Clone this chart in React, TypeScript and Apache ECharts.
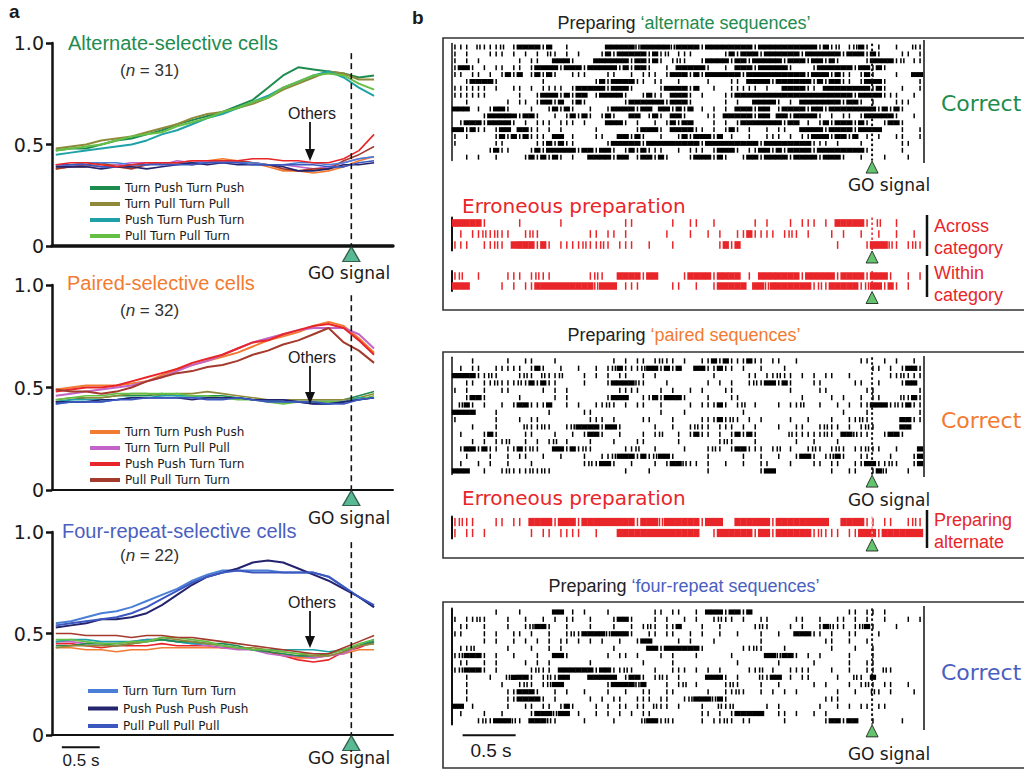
import React, { useEffect, useRef } from "react";
import * as echarts from "echarts";

// ---------- Panel a: time base (s relative to GO) ----------
const TIME_A = [-3.9, -3.7, -3.5, -3.3, -3.1, -2.9, -2.7, -2.5, -2.3, -2.1, -1.9, -1.7, -1.5, -1.3, -1.1, -0.9, -0.7, -0.5, -0.3, -0.1, 0.1, 0.3];

// Alternate-selective cells
const alt_TPTP = [0.47, 0.48, 0.48, 0.5, 0.52, 0.53, 0.55, 0.57, 0.6, 0.62, 0.64, 0.66, 0.69, 0.72, 0.78, 0.84, 0.88, 0.87, 0.86, 0.85, 0.83, 0.84];
const alt_TPuTPu = [0.48, 0.49, 0.5, 0.52, 0.53, 0.54, 0.56, 0.58, 0.6, 0.63, 0.65, 0.66, 0.68, 0.7, 0.73, 0.77, 0.8, 0.83, 0.86, 0.85, 0.82, 0.82];
const alt_PTPT = [0.45, 0.46, 0.47, 0.48, 0.49, 0.5, 0.52, 0.55, 0.57, 0.6, 0.63, 0.65, 0.68, 0.71, 0.74, 0.78, 0.81, 0.84, 0.86, 0.83, 0.78, 0.74];
const alt_PuTPuT = [0.47, 0.48, 0.49, 0.5, 0.52, 0.54, 0.55, 0.56, 0.59, 0.61, 0.63, 0.66, 0.68, 0.71, 0.73, 0.78, 0.81, 0.84, 0.85, 0.84, 0.8, 0.77];
const alt_oth_PPTT = [0.4, 0.41, 0.41, 0.4, 0.39, 0.4, 0.41, 0.41, 0.41, 0.42, 0.42, 0.42, 0.42, 0.43, 0.43, 0.42, 0.42, 0.41, 0.41, 0.43, 0.47, 0.55];
const alt_oth_PuPuTT = [0.38, 0.39, 0.4, 0.41, 0.39, 0.38, 0.4, 0.41, 0.41, 0.4, 0.41, 0.42, 0.42, 0.41, 0.4, 0.38, 0.37, 0.38, 0.38, 0.42, 0.45, 0.49];
const alt_oth_TTPP = [0.38, 0.39, 0.39, 0.4, 0.4, 0.39, 0.4, 0.41, 0.41, 0.42, 0.42, 0.43, 0.42, 0.41, 0.39, 0.37, 0.37, 0.36, 0.37, 0.39, 0.42, 0.44];
const alt_oth_TTPuPu = [0.39, 0.4, 0.4, 0.39, 0.4, 0.41, 0.41, 0.4, 0.42, 0.41, 0.42, 0.41, 0.42, 0.41, 0.4, 0.4, 0.39, 0.38, 0.39, 0.41, 0.43, 0.44];
const alt_oth_TTTT = [0.4, 0.4, 0.41, 0.41, 0.41, 0.4, 0.4, 0.41, 0.41, 0.41, 0.41, 0.42, 0.41, 0.41, 0.4, 0.4, 0.41, 0.41, 0.4, 0.41, 0.43, 0.44];
const alt_oth_PPPP = [0.39, 0.39, 0.39, 0.38, 0.39, 0.39, 0.38, 0.39, 0.4, 0.41, 0.4, 0.41, 0.4, 0.4, 0.4, 0.39, 0.37, 0.37, 0.38, 0.4, 0.4, 0.41];
const alt_oth_PuPuPuPu = [0.4, 0.4, 0.4, 0.39, 0.39, 0.4, 0.4, 0.4, 0.4, 0.4, 0.41, 0.41, 0.41, 0.4, 0.4, 0.4, 0.4, 0.4, 0.39, 0.39, 0.41, 0.42];

// Paired-selective cells
const par_TTPP = [0.49, 0.5, 0.51, 0.51, 0.51, 0.52, 0.53, 0.56, 0.59, 0.61, 0.63, 0.65, 0.67, 0.7, 0.73, 0.75, 0.77, 0.8, 0.82, 0.8, 0.74, 0.67];
const par_TTPuPu = [0.46, 0.47, 0.48, 0.49, 0.5, 0.51, 0.53, 0.55, 0.58, 0.61, 0.63, 0.66, 0.69, 0.72, 0.74, 0.76, 0.78, 0.79, 0.79, 0.79, 0.76, 0.69];
const par_PPTT = [0.48, 0.49, 0.5, 0.5, 0.51, 0.53, 0.55, 0.57, 0.59, 0.62, 0.64, 0.66, 0.69, 0.72, 0.73, 0.76, 0.78, 0.8, 0.81, 0.79, 0.73, 0.66];
const par_PuPuTT = [0.49, 0.48, 0.48, 0.47, 0.48, 0.5, 0.53, 0.55, 0.57, 0.58, 0.6, 0.61, 0.63, 0.66, 0.68, 0.71, 0.73, 0.76, 0.79, 0.72, 0.68, 0.62];
const par_oth_TPTP = [0.43, 0.44, 0.45, 0.45, 0.46, 0.46, 0.46, 0.47, 0.46, 0.46, 0.46, 0.46, 0.45, 0.44, 0.44, 0.44, 0.44, 0.44, 0.44, 0.44, 0.46, 0.48];
const par_oth_TPuTPu = [0.44, 0.45, 0.45, 0.45, 0.46, 0.47, 0.47, 0.46, 0.47, 0.47, 0.48, 0.47, 0.46, 0.45, 0.44, 0.44, 0.44, 0.44, 0.44, 0.44, 0.45, 0.47];
const par_oth_PTPT = [0.43, 0.44, 0.44, 0.44, 0.44, 0.45, 0.45, 0.46, 0.46, 0.46, 0.45, 0.45, 0.45, 0.44, 0.44, 0.43, 0.43, 0.43, 0.43, 0.43, 0.45, 0.45];
const par_oth_PuTPuT = [0.44, 0.45, 0.46, 0.46, 0.47, 0.47, 0.47, 0.47, 0.47, 0.46, 0.46, 0.45, 0.44, 0.44, 0.43, 0.42, 0.43, 0.43, 0.43, 0.43, 0.44, 0.46];
const par_oth_TTTT = [0.42, 0.43, 0.43, 0.43, 0.44, 0.45, 0.45, 0.45, 0.45, 0.45, 0.45, 0.45, 0.45, 0.44, 0.44, 0.44, 0.43, 0.42, 0.42, 0.43, 0.44, 0.45];
const par_oth_PPPP = [0.43, 0.43, 0.43, 0.44, 0.44, 0.45, 0.45, 0.45, 0.45, 0.44, 0.45, 0.45, 0.45, 0.44, 0.44, 0.44, 0.43, 0.42, 0.42, 0.43, 0.44, 0.45];
const par_oth_PuPuPuPu = [0.42, 0.43, 0.43, 0.43, 0.44, 0.44, 0.45, 0.45, 0.45, 0.45, 0.44, 0.44, 0.45, 0.44, 0.43, 0.43, 0.43, 0.43, 0.42, 0.42, 0.44, 0.45];

// Four-repeat-selective cells
const four_TTTT = [0.55, 0.56, 0.58, 0.6, 0.61, 0.63, 0.66, 0.69, 0.72, 0.76, 0.79, 0.81, 0.81, 0.81, 0.81, 0.8, 0.8, 0.8, 0.78, 0.73, 0.68, 0.63];
const four_PPPP = [0.53, 0.54, 0.55, 0.57, 0.57, 0.58, 0.6, 0.64, 0.69, 0.74, 0.78, 0.8, 0.82, 0.85, 0.86, 0.85, 0.82, 0.79, 0.76, 0.72, 0.68, 0.63];
const four_PuPuPuPu = [0.54, 0.55, 0.56, 0.57, 0.58, 0.6, 0.63, 0.67, 0.71, 0.75, 0.78, 0.8, 0.81, 0.8, 0.8, 0.8, 0.8, 0.8, 0.78, 0.73, 0.68, 0.64];
const four_oth_PuPuTT = [0.5, 0.5, 0.49, 0.49, 0.49, 0.48, 0.49, 0.49, 0.48, 0.48, 0.47, 0.46, 0.45, 0.44, 0.43, 0.42, 0.41, 0.4, 0.4, 0.43, 0.46, 0.49];
const four_oth_TTPP = [0.43, 0.43, 0.42, 0.42, 0.41, 0.42, 0.42, 0.43, 0.43, 0.43, 0.43, 0.43, 0.43, 0.42, 0.41, 0.4, 0.38, 0.38, 0.39, 0.4, 0.42, 0.42];
const four_oth_PPTT = [0.45, 0.45, 0.44, 0.43, 0.44, 0.44, 0.44, 0.45, 0.44, 0.44, 0.44, 0.43, 0.43, 0.42, 0.41, 0.39, 0.37, 0.36, 0.37, 0.41, 0.43, 0.46];
const four_oth_TTPuPu = [0.46, 0.46, 0.45, 0.45, 0.45, 0.46, 0.47, 0.47, 0.46, 0.45, 0.44, 0.43, 0.42, 0.42, 0.4, 0.39, 0.39, 0.38, 0.39, 0.4, 0.44, 0.45];
const four_oth_PTPT = [0.46, 0.47, 0.47, 0.46, 0.46, 0.46, 0.47, 0.47, 0.46, 0.45, 0.45, 0.44, 0.43, 0.42, 0.42, 0.42, 0.42, 0.42, 0.41, 0.42, 0.44, 0.47];
const four_oth_TPTP = [0.44, 0.44, 0.45, 0.45, 0.44, 0.45, 0.46, 0.47, 0.46, 0.46, 0.45, 0.45, 0.44, 0.42, 0.41, 0.4, 0.39, 0.39, 0.4, 0.42, 0.44, 0.46];
const four_oth_TPuTPu = [0.43, 0.44, 0.44, 0.44, 0.44, 0.45, 0.46, 0.48, 0.47, 0.46, 0.45, 0.44, 0.43, 0.43, 0.42, 0.41, 0.4, 0.39, 0.39, 0.41, 0.44, 0.45];
const four_oth_PuTPuT = [0.47, 0.47, 0.46, 0.45, 0.45, 0.46, 0.46, 0.48, 0.48, 0.47, 0.46, 0.44, 0.43, 0.42, 0.42, 0.41, 0.4, 0.4, 0.4, 0.42, 0.45, 0.47];

const Y_TICKS = [0, 0.5, 1.0];

// ---------- Panel b: spike rasters (80 time bins each; '#' burst, '|' spike, ':' two spikes) ----------
const ALT_CORRECT = [
  "||| :|||: |####|#  |      ####" + "#:#####:####|########|##########|#|: |:#| |  |  :|",
  "| |   ||| | | | :| | |   |#|##" + "###|#|: |||     |#|###|######|######|###|#|   || |",
  "| | |      | ||  ###|   ######" + "|##|#| |:|  |####|##|#####|###|##|#|    |####|: ||",
  "|##| | || || |####|###|#####|#" + "|##|  | #####|  | ###|#####|   |######|##|#|      ",
  "|| || | |#|# |#|#|  |||   ||  " + "| ||| |###|#|######|##########|###|#|| |#|   |  ##",
  "  |####|       |        |#|####|" + "| ||  |    |   || ####|######|#|##|| |###|     || ",
  "|||||| |  || | |||| |#####|###" + "|    |####|#  |  ||||| |  ####|| ########|#|  |  |",
  "||||||     |  |###|#|## |####|" + "  |#|| ###| |   ||####################|####|||  |",
  "  |      | || |##|# |#|      " + "|######|###|     | |  ####| | #######|##| |   |||",
  "### | |##|   |  |#|#|  |  |###" + "#|## ##|#|# | | | ###|## |####|##|########|#|#|   ",
  "     |#####|##|  | |#|#| |#|  " + "## |#| ##|   || #####|## ##|####| | || |#####|  | ",
  " |###|####| | ||| ||| |   ###|" + " |  | |#|##   | | |#######|## | |#|###|#|  |##|   ",
  "##|#|| |## ##|| | |     |     " + " |###| ####|| | |#| |  | ||  ####|####|####   |  |",
  "| |    |#|#|#||| ## |   ||  ##" + "|#|  |  |#|###|# |  |  ||| | ||###|##|# | |  ||  |",
  "|      ||     ||#|#||     |###" + "##|#########|#########|########||| |   |      ||",
  "      |#||   |#|#####|##|##| " + "|#|#|||  | ||| |###| ||##|#|####|########|     |  ",
  "  | |  |    |#|#|#| |  ####|##" + " |##|#|   |###|#|  |##|####|####|###|  |   |   |  ",
];
const ALT_ACROSS = [
  "#####|     |      |          |" + "|      |  ||  |      | |   | ||| | #####| :  |     ",
  " | ||:|:||  |:|        || || |" + "      |   |  | |  ||#|||| |:| |   | |  |  |  |  |",
  "|||  ||:| ####|#| ||||:||:| |||" + "  |   |       |#|#                |    |###:| |:|     ",
];
const ALT_WITHIN = [
  "|:  |    ||| |:||      |:|  ##" + "##|##    |####|#### | #######|#####|####|###|  | | ",
  "###     | | ||##########:### |" + "||     ||  |  |##### ##:#######|:|#####|:##|#| |   | ",
];
const PAIR_CORRECT = [
  "   |     |  ||   |         | |" + " || |:|| |  ||#|#|||#|| ||  |          ||  | |  | ",
  " | ||  ||||| |#|  |  |  | |:#||" + "|:##|#|#  ##||#|| |  |   |              || | |##|:",
  "####||:|   |:| :||:   | | | ||" + "  | |         |     || ||:|| | | ||  |      ||:|||",
  "  || ||:|||:|#|#||    |   |###" + "#:|   |      | | |  |:|##|#|   ||     ||  |   |##",
  "| |  |  ||     | | |        ||" + "||   | |  | |   ||         |    ||      ||       | ",
  "  |##|     |     | |      |###" + "  ||#|###|   |   ||          |    | |  | ||   :|#|#",
  " :#| |  | |##|||#  | |  ||:| |" + " ||  |    | |||#| |: |   | ||:  |  | | ||###|:|#||",
  "####   |        |     ||     " + "      |   |         |                |   |        |",
  "|      |   | ||        ||| |  " + "  ||   |    |||#|:| | |    |  |   |  ||:|     ##||",
  "   |   |    :||:|  |:####|##| " + "    |  |  |:|| ||| | |   |  ||  |:|| | |:|    ##  ",
  " |   |#|    ||   |  | |##|  | " + "  | |:  | |#|| | |#|#|     :|||||:| ##:||  |##|   ",
  "   | | ||:  | | |: |   |   |  " + " ||     |      |:|   |      |  |   |              ",
  " |##|#|| ||#|:|  ##|#|:|     |" + "|:  |    |   |:| |##||| |: |  |:| |:| ||:||  |   #",
  "  |   |  | ||  |  |   |  ||:##" + "#|#|:##|     |     |  |  |  |##| |:#|  ||   |   |#",
  " |  | |  |   |        |:|##|  " + "|   | |##:|| |  |  |  ||   |   || ||  ||##||:|  |##|#",
  "###  |  |:|||:|:|            |" + "   |         |        |##         |  ||  |#:   |    ",
];
const PAIR_ERR_ALT = [
  "|:||   || || ####|###|####" + "#####|###:######|###  ######|#########  ####|| ||  |:||",
  "| || |       | || ||||  |   ##" + "############  |######|##|######|:||| ||###|########",
];
const FOUR_CORRECT = [
  "       |   |     ## | |   |   " + "    || ||  | ###|##|#                || || |       ",
  "| ||:|   |  |  | | ||  |   |##" + "|   | |  | |  |:|| |  ||    ||  |  || | |  |   | | ",
  " ||  |   |  |:##|  |   |   |  " + "| |:| ||#   |  |     |:|   | |  |#:|| |:#|   |    ",
  "||   | |  || |  |  |:|####:###" + "|  || ||  | |  |  |   |  |  ###|| |  ||   |       ",
  "     | |  | | | | || | | |  | " + " |##    | |   |       |          ||  |  |        ",
  " ||:     |   |  | |        |  " + "   ##|######|      ||:|   |       |   |  |        ",
  "|:###| |  |   |  ##|      | ||" + " |   | |   |     |     ##:##| | |    |   |         ",
  " ||  | |    | | |      |      " + "  |    |          |      |     |     |  ||        ",
  "|:###| |     |:|| ######|##||:" + "|   |  ||| | | |    ||: |  ||||   |  |  || :|      ",
  "  |   |  :###| |:|##   ##### |" + "##| |:| |    ###| |   :|## | ||    |  :| #        ",
  "  |     |  |:| |:##       |###" + "#:#   | |: |    |:|   |  |     | |   | |:| ||  |  ",
  "  |      ||###|  | |  |   |  |" + "  ||  ||     |  ||:|  | | | |      |  |  :| |   |   ",
  "  |      ||####| |     | | || " + " ||| ||  |:###:#|                |||             ",
  "## |     |  || || |#|   | | ||" + " || :|| |   |  :|:     | |      |  | | || ||       ",
  " |   |  |    |###:## |  | | | " + "| ||        || | |#####  || |  | |                ",
  "    |:|###:| ###:|    |    |  " + "  :##|:|    | ||:| ||     |      |##|##  |    |   ",
];

// ---------- styling constants ----------
const C = {
  TPTP: "#1e8c4e", TPuTPu: "#8f8a3a", PTPT: "#1ea2a8", PuTPuT: "#66bf45",
  TTPP: "#f27b32", TTPuPu: "#c264c8", PPTT: "#e8262a", PuPuTT: "#a43a2c",
  TTTT: "#4a7fd6", PPPP: "#23236e", PuPuPuPu: "#3c58c0",
};
const GREEN_T = "#1e8c4e", ORANGE_T = "#f27b32", BLUE_T = "#4a60c0", RED_T = "#e8262a";

const NB = 80;
const RT_MIN = -3.96, RT_MAX = 0.48;
const BIN = (RT_MAX - RT_MIN) / NB;

function rasterData(rows: string[]) {
  const out: number[][] = [];
  rows.forEach((row, r) => {
    const s = row.padEnd(NB, " ").slice(0, NB);
    for (let i = 0; i < NB; i++) {
      const c = s[i];
      const t = RT_MIN + (i + 0.5) * BIN;
      if (c === "#") out.push([t, r, 2]);
      else if (c === "|") out.push([t, r, 1]);
      else if (c === ":") { out.push([t - BIN / 4, r, 1]); out.push([t + BIN / 4, r, 1]); }
    }
  });
  return out;
}

// vertical dashed/dotted marker at GO: segments computed from the axis scale
function goLine(gi: number, y0: number, y1: number, color: string, width: number, dash: number, gap: number) {
  return {
    type: "custom", xAxisIndex: gi, yAxisIndex: gi, data: [[0, y0, y1]], clip: false, silent: true, z: 4,
    encode: { x: 0, y: [1, 2] },
    renderItem: (params: any, api: any) => {
      const a = api.coord([api.value(0), api.value(1)]);
      const b = api.coord([api.value(0), api.value(2)]);
      const top = Math.min(a[1], b[1]), bot = Math.max(a[1], b[1]);
      const children: any[] = [];
      for (let y = top; y < bot; y += dash + gap) {
        children.push({ type: "rect", shape: { x: a[0] - width / 2, y, width, height: Math.min(dash, bot - y) }, style: { fill: color } });
      }
      return { type: "group", children };
    },
  };
}

export default function App() {
  const ref = useRef<HTMLDivElement>(null);
  useEffect(() => {
    if (!ref.current) return;
    const chart = echarts.init(ref.current, undefined, { renderer: "svg" });

    const panels = [
      {
        sel: [["Turn Push Turn Push", alt_TPTP, C.TPTP], ["Turn Pull Turn Pull", alt_TPuTPu, C.TPuTPu], ["Push Turn Push Turn", alt_PTPT, C.PTPT], ["Pull Turn Pull Turn", alt_PuTPuT, C.PuTPuT]],
        oth: [["Turn Turn Push Push", alt_oth_TTPP, C.TTPP], ["Turn Turn Pull Pull", alt_oth_TTPuPu, C.TTPuPu], ["Pull Pull Turn Turn", alt_oth_PuPuTT, C.PuPuTT], ["Turn Turn Turn Turn", alt_oth_TTTT, C.TTTT], ["Push Push Push Push", alt_oth_PPPP, C.PPPP], ["Pull Pull Pull Pull", alt_oth_PuPuPuPu, C.PuPuPuPu], ["Push Push Turn Turn", alt_oth_PPTT, C.PPTT]],
      },
      {
        sel: [["Turn Turn Push Push", par_TTPP, C.TTPP], ["Turn Turn Pull Pull", par_TTPuPu, C.TTPuPu], ["Push Push Turn Turn", par_PPTT, C.PPTT], ["Pull Pull Turn Turn", par_PuPuTT, C.PuPuTT]],
        oth: [["Turn Push Turn Push", par_oth_TPTP, C.TPTP], ["Turn Pull Turn Pull", par_oth_TPuTPu, C.TPuTPu], ["Push Turn Push Turn", par_oth_PTPT, C.PTPT], ["Pull Turn Pull Turn", par_oth_PuTPuT, C.PuTPuT], ["Turn Turn Turn Turn", par_oth_TTTT, C.TTTT], ["Push Push Push Push", par_oth_PPPP, C.PPPP], ["Pull Pull Pull Pull", par_oth_PuPuPuPu, C.PuPuPuPu]],
      },
      {
        sel: [["Turn Turn Turn Turn", four_TTTT, C.TTTT], ["Push Push Push Push", four_PPPP, C.PPPP], ["Pull Pull Pull Pull", four_PuPuPuPu, C.PuPuPuPu]],
        oth: [["Turn Turn Push Push", four_oth_TTPP, C.TTPP], ["Push Push Turn Turn", four_oth_PPTT, C.PPTT], ["Turn Turn Pull Pull", four_oth_TTPuPu, C.TTPuPu], ["Push Turn Push Turn", four_oth_PTPT, C.PTPT], ["Turn Push Turn Push", four_oth_TPTP, C.TPTP], ["Turn Pull Turn Pull", four_oth_TPuTPu, C.TPuTPu], ["Pull Turn Pull Turn", four_oth_PuTPuT, C.PuTPuT], ["Pull Pull Turn Turn", four_oth_PuPuTT, C.PuPuTT]],
      },
    ];
    const gridA = [
      { left: 52, top: 43, width: 341, height: 203 },
      { left: 52, top: 285, width: 341, height: 205 },
      { left: 52, top: 532, width: 341, height: 203 },
    ];
    const rasters = [
      { rows: ALT_CORRECT, top: 43.6, height: 117, color: "#000", hf: 0.72, dot: "#111", dotW: 2 },
      { rows: ALT_ACROSS, top: 217.5, height: 33, color: RED_T, hf: 0.7, dot: "#e8262a", dotW: 1.5 },
      { rows: ALT_WITHIN, top: 271, height: 20, color: RED_T, hf: 0.75, dot: "#e8262a", dotW: 1.5 },
      { rows: PAIR_CORRECT, top: 357.3, height: 117.3, color: "#000", hf: 0.72, dot: "#111", dotW: 2 },
      { rows: PAIR_ERR_ALT, top: 516.5, height: 22, color: RED_T, hf: 0.75, dot: "#f5a0a0", dotW: 1.5 },
      { rows: FOUR_CORRECT, top: 608.4, height: 116, color: "#000", hf: 0.72, dot: "#111", dotW: 2 },
    ];

    const grid: any[] = [];
    const xAxis: any[] = [];
    const yAxis: any[] = [];
    const series: any[] = [];

    gridA.forEach((g, i) => {
      grid.push({ ...g, outerBoundsMode: "none" });
      xAxis.push({
        type: "value", gridIndex: i, min: -3.95, max: 0.55,
        axisLine: { show: true, onZero: false, lineStyle: { color: "#111", width: i === 0 ? 3.5 : 2 } },
        axisTick: { show: false }, axisLabel: { show: false }, splitLine: { show: false },
      });
      yAxis.push({
        type: "value", gridIndex: i, min: Y_TICKS[0], max: Y_TICKS[2], interval: 0.5,
        axisLine: { show: true, onZero: false, lineStyle: { color: "#111", width: 2.5 } },
        axisTick: { show: true, length: 6, lineStyle: { color: "#111", width: 2.5 } },
        axisLabel: { show: true, margin: 8, fontSize: 19, fontFamily: "DejaVu Sans", color: "#1a1a1a", formatter: (v: number) => (v === 0 ? "0" : v.toFixed(1)) },
        splitLine: { show: false },
      });
      const p = panels[i];
      p.oth.forEach((s: any) => {
        series.push({
          type: "line", name: `${s[0]} (others ${i})`, xAxisIndex: i, yAxisIndex: i,
          data: TIME_A.map((t, j) => [t, s[1][j]]), showSymbol: false, symbol: "none",
          color: s[2], lineStyle: { color: s[2], width: 1.6 }, z: 2, silent: true,
        });
      });
      p.sel.forEach((s: any) => {
        series.push({
          type: "line", name: s[0], xAxisIndex: i, yAxisIndex: i,
          data: TIME_A.map((t, j) => [t, s[1][j]]), showSymbol: false, symbol: "none",
          color: s[2], itemStyle: { color: s[2] }, lineStyle: { color: s[2], width: 2 }, z: 3, silent: true,
        });
      });
      // GO dashed line
      series.push(goLine(i, 0, 0.95, "#111", 1.6, 6, 4));
      // GO triangle
      series.push({
        type: "scatter", xAxisIndex: i, yAxisIndex: i, data: [[0, 0]], symbol: "triangle",
        symbolSize: [17, 15], symbolOffset: [0, 8], clip: false,
        itemStyle: { color: "#2fa77a", borderColor: "#17402c", borderWidth: 1.3 }, z: 6, silent: true,
      });
    });
    // panel a scale bar (0.5 s)
    series.push({
      type: "line", xAxisIndex: 2, yAxisIndex: 2, data: [[-3.82, -0.06], [-3.32, -0.06]], symbol: "none",
      clip: false, lineStyle: { color: "#111", width: 2 }, silent: true,
    });

    rasters.forEach((r, k) => {
      const gi = 3 + k;
      const n = r.rows.length;
      grid.push({ left: 452, width: 471, top: r.top, height: r.height, outerBoundsMode: "none" });
      xAxis.push({ type: "value", gridIndex: gi, min: RT_MIN, max: RT_MAX, show: false });
      yAxis.push({
        type: "value", gridIndex: gi, min: -0.5, max: n - 0.5, inverse: true,
        axisLine: { show: true, onZero: false, lineStyle: { color: "#111", width: k % 3 === 0 ? 1.5 : 2 } },
        axisTick: { show: false }, axisLabel: { show: false }, splitLine: { show: false },
      });
      const hf = r.hf, col = r.color;
      series.push({
        type: "custom", xAxisIndex: gi, yAxisIndex: gi, data: rasterData(r.rows), clip: false, silent: true,
        encode: { x: 0, y: 1 },
        renderItem: (params: any, api: any) => {
          const p = api.coord([api.value(0), api.value(1)]);
          const rowH = Math.abs(api.size([0, 1])[1]);
          const bw = api.size([BIN, 0])[0];
          const h = rowH * hf;
          const w = api.value(2) === 2 ? bw + 0.4 : 1.5;
          return { type: "rect", shape: { x: p[0] - w / 2, y: p[1] - h / 2, width: w, height: h }, style: { fill: col } };
        },
      });
      series.push(goLine(gi, -0.5, n - 0.5, r.dot, r.dotW, 2.5, 2.5));
      series.push({
        type: "scatter", xAxisIndex: gi, yAxisIndex: gi, data: [[0, n - 0.5]], symbol: "triangle",
        symbolSize: [12, 12], symbolOffset: [0, 6.5], clip: false,
        itemStyle: { color: "#3db54a", borderColor: "#111", borderWidth: 1 }, z: 6, silent: true,
      });
    });
    // panel b scale bar (0.5 s)
    series.push({
      type: "line", xAxisIndex: 8, yAxisIndex: 8, data: [[-3.86, 17.0], [-3.36, 17.0]], symbol: "none",
      clip: false, lineStyle: { color: "#111", width: 2 }, silent: true,
    });

    const legendBase = {
      orient: "vertical", icon: "rect", itemWidth: 30, itemHeight: 4, padding: 0, selectedMode: false,
      textStyle: { fontSize: 12, fontFamily: "DejaVu Sans", color: "#1a1a1a", lineHeight: 14 },
    };
    const legend = [
      { ...legendBase, left: 90, top: 181, itemGap: 2, data: panels[0].sel.map((s: any) => s[0]) },
      { ...legendBase, left: 90, top: 425, itemGap: 2, data: panels[1].sel.map((s: any) => s[0]) },
      { ...legendBase, left: 88, top: 684, itemGap: 3.5, data: panels[2].sel.map((s: any) => s[0]) },
    ];

    const txt = (x: number, y: number, text: string, o: any = {}) => ({
      type: "text", x, y, silent: true, z: 10,
      style: { text, fill: o.fill || "#1a1a1a", fontSize: o.size || 16, fontFamily: o.font || "Liberation Sans", fontWeight: o.weight || "normal", align: o.align || "left", verticalAlign: "middle", rich: o.rich },
    });
    const arrow = (x: number, y1: number, y2: number) => [
      { type: "line", silent: true, z: 10, shape: { x1: x, y1, x2: x, y2: y2 - 10 }, style: { stroke: "#111", lineWidth: 1.8 } },
      { type: "polygon", silent: true, z: 10, shape: { points: [[x - 5, y2 - 12], [x + 5, y2 - 12], [x, y2]] }, style: { fill: "#111" } },
    ];
    const nLabel = (y: number, n: number) =>
      txt(120, y, `{p|(}{i|n}{p| = ${n})}`, { rich: { p: { fontSize: 17, fill: "#333", fontFamily: "Liberation Sans" }, i: { fontSize: 17, fill: "#333", fontStyle: "italic", fontFamily: "Liberation Sans" } } });
    const prep = (y: number, q: string, col: string) =>
      txt(684, y, `{a|Preparing }{b|${q}}`, { align: "center", rich: { a: { fontSize: 18, fill: "#222", fontFamily: "Liberation Sans" }, b: { fontSize: 18, fill: col, fontFamily: "Liberation Sans" } } });
    const box = (y: number, h: number) => ({ type: "rect", silent: true, z: 1, shape: { x: 443, y, width: 620, height: h }, style: { fill: "none", stroke: "#333", lineWidth: 1.6 } });
    const vbar = (x: number, y1: number, y2: number, w: number) => ({ type: "line", silent: true, z: 10, shape: { x1: x, y1, x2: x, y2 }, style: { stroke: "#111", lineWidth: w } });

    const graphic: any[] = [
      txt(9, 11, "a", { size: 19, weight: "bold" }),
      txt(412, 17, "b", { size: 19, weight: "bold" }),
      // panel a texts
      txt(68, 43, "Alternate-selective cells", { size: 20, fill: GREEN_T }),
      nLabel(70, 31),
      txt(312, 113, "Others", { size: 16, align: "center" }),
      ...arrow(310, 122, 161),
      txt(349, 273, "GO signal", { size: 17, font: "DejaVu Sans", align: "center" }),
      txt(67, 283, "Paired-selective cells", { size: 20, fill: ORANGE_T }),
      nLabel(310, 32),
      txt(312, 357, "Others", { size: 16, align: "center" }),
      ...arrow(310, 366, 404),
      txt(349, 518, "GO signal", { size: 17, font: "DejaVu Sans", align: "center" }),
      txt(62, 531, "Four-repeat-selective cells", { size: 20, fill: BLUE_T }),
      nLabel(555, 22),
      txt(312, 602, "Others", { size: 16, align: "center" }),
      ...arrow(310, 611, 648),
      txt(349, 758, "GO signal", { size: 17, font: "DejaVu Sans", align: "center" }),
      txt(81, 760, "0.5 s", { size: 17, align: "center" }),
      // panel b
      box(38, 272), box(352, 206), box(602, 166),
      prep(23, "‘alternate sequences’", GREEN_T),
      prep(335, "‘paired sequences’", ORANGE_T),
      prep(586, "‘four-repeat sequences’", BLUE_T),
      vbar(924, 40, 163, 1.5), vbar(927, 215, 256, 2.5), vbar(927, 265, 297, 2.5),
      vbar(924, 356, 477, 1.5), vbar(927, 510, 548, 2.5), vbar(924, 606, 730, 1.5),
      txt(941, 103, "Correct", { size: 22, font: "DejaVu Sans", fill: GREEN_T }),
      txt(941, 420, "Correct", { size: 22, font: "DejaVu Sans", fill: ORANGE_T }),
      txt(941, 672, "Correct", { size: 22, font: "DejaVu Sans", fill: BLUE_T }),
      txt(889, 185, "GO signal", { size: 17, font: "DejaVu Sans", align: "center" }),
      txt(889, 500, "GO signal", { size: 17, font: "DejaVu Sans", align: "center" }),
      txt(889, 754, "GO signal", { size: 17, font: "DejaVu Sans", align: "center" }),
      txt(462, 206, "Erroneous preparation", { size: 20, font: "DejaVu Sans", fill: RED_T }),
      txt(462, 498, "Erroneous preparation", { size: 20, font: "DejaVu Sans", fill: RED_T }),
      txt(934, 226, "Across", { size: 18, fill: RED_T }),
      txt(934, 248, "category", { size: 18, fill: RED_T }),
      txt(934, 273, "Within", { size: 18, fill: RED_T }),
      txt(934, 295, "category", { size: 18, fill: RED_T }),
      txt(934, 520, "Preparing", { size: 18, fill: RED_T }),
      txt(934, 542, "alternate", { size: 18, fill: RED_T }),
      txt(491, 750, "0.5 s", { size: 19, align: "center" }),
    ];

    chart.setOption({
      animation: false,
      backgroundColor: "#fff",
      textStyle: { fontFamily: "Liberation Sans" },
      grid, xAxis, yAxis, series, legend, graphic,
    });
    return () => chart.dispose();
  }, []);
  return <div ref={ref} style={{ position: "fixed", left: 0, top: 0, width: 1024, height: 769 }} />;
}
